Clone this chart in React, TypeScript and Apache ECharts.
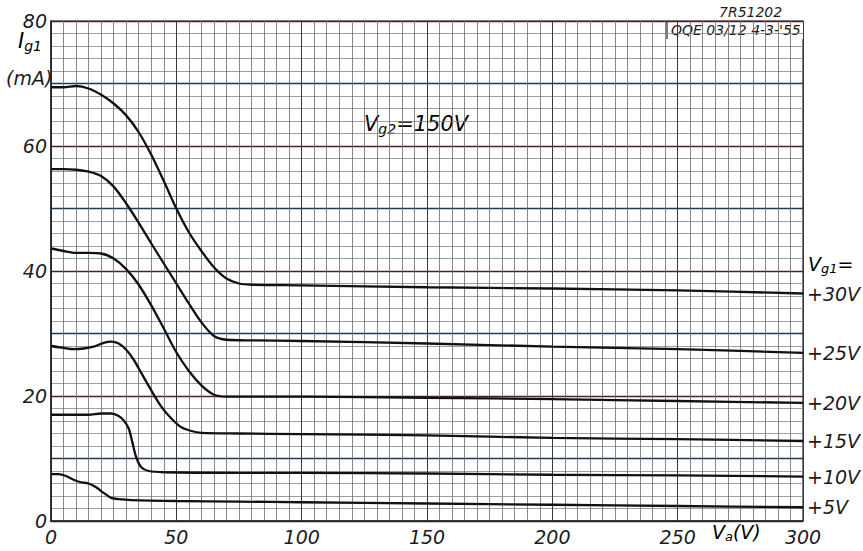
import React, { useEffect, useRef } from "react";
import * as echarts from "echarts";

// Anode voltage Va (V) vs grid current Ig1 (mA), for each Vg1
const vg1Labels = ["+30V", "+25V", "+20V", "+15V", "+10V", "+5V"];

const curve30: number[][] = [
  [0, 69.4], [5, 69.4], [10, 69.6], [15, 69.2], [20, 68.2], [25, 66.8], [30, 64.9],
  [35, 62.2], [40, 58.6], [45, 54.4], [50, 50.0], [55, 46.2], [60, 43.2], [65, 40.6],
  [70, 38.8], [75, 38.0], [80, 37.8], [100, 37.7], [150, 37.4], [200, 37.2], [250, 36.9], [300, 36.4],
];
const curve25: number[][] = [
  [0, 56.3], [5, 56.3], [10, 56.2], [15, 55.9], [20, 55.2], [25, 53.5], [30, 50.8],
  [35, 47.7], [40, 44.4], [45, 41.2], [50, 38.0], [55, 34.8], [60, 31.8], [65, 29.6],
  [70, 29.0], [80, 28.9], [100, 28.8], [150, 28.4], [200, 27.9], [250, 27.5], [300, 26.9],
];
const curve20: number[][] = [
  [0, 43.6], [5, 43.2], [10, 42.9], [15, 42.9], [20, 42.8], [25, 42.0], [30, 40.3],
  [35, 37.8], [40, 34.5], [45, 30.8], [50, 27.0], [55, 24.0], [60, 21.7], [65, 20.2],
  [70, 19.9], [100, 19.9], [150, 19.7], [200, 19.5], [250, 19.2], [300, 18.9],
];
const curve15: number[][] = [
  [0, 28.0], [5, 27.7], [9, 27.5], [13, 27.6], [17, 27.9], [21, 28.5], [24, 28.7],
  [27, 28.4], [30, 27.4], [33, 25.8], [36, 23.7], [40, 20.9], [44, 18.3], [48, 16.4],
  [52, 15.0], [56, 14.4], [60, 14.1], [75, 14.0], [100, 13.9], [150, 13.7], [200, 13.3],
  [250, 13.1], [300, 12.8],
];
const curve10: number[][] = [
  [0, 17.0], [5, 17.0], [10, 17.0], [15, 17.0], [20, 17.2], [24, 17.2], [27, 16.8],
  [29, 16.1], [31, 14.8], [32.5, 12.5], [34, 10.2], [36, 8.6], [39, 8.0], [45, 7.8],
  [75, 7.7], [100, 7.7], [150, 7.6], [200, 7.4], [250, 7.3], [300, 7.1],
];
const curve5: number[][] = [
  [0, 7.5], [3, 7.5], [6, 7.2], [9, 6.6], [12, 6.2], [15, 6.0], [18, 5.4], [21, 4.5],
  [24, 3.7], [27, 3.5], [32, 3.35], [50, 3.2], [75, 3.1], [100, 3.0], [150, 2.8],
  [200, 2.6], [250, 2.4], [300, 2.2],
];
const curves = [curve30, curve25, curve20, curve15, curve10, curve5];

const xTickLabels = [0, 50, 100, 150, 200, 250, 300];
const yTickLabels = [0, 20, 40, 60, 80];

const FONT = '"DejaVu Sans", sans-serif';
const INK = "#1c1c1c";

export default function App() {
  const ref = useRef<HTMLDivElement>(null);
  useEffect(() => {
    if (!ref.current) return;
    const chart = echarts.init(ref.current, undefined, { renderer: "svg" });
    const rich = (big: number, small: number) => ({
      v: { fontSize: big, fontStyle: "italic", fontFamily: FONT, color: INK },
      s: { fontSize: small, fontStyle: "italic", fontFamily: FONT, color: INK, padding: [Math.round(big * 0.5), 0, 0, 0] },
    });
    chart.setOption({
      animation: false,
      backgroundColor: "#ffffff",
      grid: { left: 51, top: 21, right: 60, bottom: 30, show: true, borderColor: "#222", borderWidth: 1.2 },
      xAxis: {
        type: "value",
        min: 0,
        max: 300,
        interval: 50,
        axisLine: { show: true, lineStyle: { color: "#222", width: 1.5 } },
        axisTick: { show: false },
        minorTick: { show: false, splitNumber: 10 },
        splitLine: { show: true, lineStyle: { color: "#3a3a3a", width: 1 } },
        minorSplitLine: { show: true, lineStyle: { color: "#6a6a6a", width: 0.8 } },
        axisLabel: {
          margin: 6,
          fontSize: 19,
          fontStyle: "italic",
          fontFamily: FONT,
          color: INK,
          formatter: (v: number) => (xTickLabels.includes(v) ? String(v) : ""),
        },
      },
      yAxis: {
        type: "value",
        min: 0,
        max: 80,
        interval: 10,
        axisLine: { show: true, lineStyle: { color: "#222", width: 1.5 } },
        axisTick: { show: false },
        minorTick: { show: false, splitNumber: 5 },
        splitLine: { show: true, lineStyle: { color: ["#4a2030", "#1f3a55"], width: 1.4 } },
        minorSplitLine: { show: true, lineStyle: { color: "#8a8580", width: 0.8 } },
        axisLabel: {
          margin: 4,
          fontSize: 19,
          fontStyle: "italic",
          fontFamily: FONT,
          color: INK,
          formatter: (v: number) => (yTickLabels.includes(v) ? String(v) : ""),
        },
      },
      series: curves.map((c, i) => ({
        type: "line",
        data: c,
        showSymbol: false,
        smooth: 0.3,
        lineStyle: { color: "#111", width: 2.3 },
        silent: true,
        endLabel: {
          show: true,
          formatter: vg1Labels[i],
          distance: 4,
          fontSize: 19,
          fontStyle: "italic",
          fontFamily: FONT,
          color: INK,
        },
      })),
      graphic: [
        {
          type: "text",
          left: 18,
          top: 30,
          style: { text: "{v|I}{s|g1}", rich: rich(21, 14) },
        },
        {
          type: "text",
          left: 6,
          top: 68,
          style: { text: "(mA)", fontSize: 19, fontStyle: "italic", fontFamily: FONT, fill: INK },
        },
        {
          type: "text",
          left: 808,
          top: 254,
          style: { text: "{v|V}{s|g1}{v|=}", rich: rich(19, 13) },
        },
        {
          type: "text",
          left: 712,
          top: 522,
          style: { text: "{v|V}{s|a}{v|(V)}", rich: rich(19, 13) },
        },
        {
          type: "rect",
          shape: { x: 362, y: 112, width: 110, height: 36 },
          style: { fill: "#ffffff" },
        },
        {
          type: "text",
          left: 364,
          top: 113,
          style: { text: "{v|V}{s|g2}{v|=150V}", rich: rich(21, 14) },
        },
        {
          type: "text",
          left: 719,
          top: 5,
          style: { text: "7R51202", fontSize: 14, fontStyle: "italic", fontFamily: FONT, fill: INK },
        },
        {
          type: "rect",
          shape: { x: 667, y: 22, width: 136, height: 17 },
          style: { fill: "#ffffff" },
        },
        {
          type: "line",
          shape: { x1: 667, y1: 21, x2: 667, y2: 39 },
          style: { stroke: "#222", lineWidth: 1.2 },
        },
        {
          type: "text",
          left: 671,
          top: 23,
          style: { text: "QQE 03/12 4-3-'55", fontSize: 14, fontStyle: "italic", fontFamily: FONT, fill: INK },
        },
      ],
    });
    return () => chart.dispose();
  }, []);
  return (
    <div
      ref={ref}
      style={{ position: "fixed", left: 0, top: 0, width: 863, height: 551 }}
    />
  );
}
